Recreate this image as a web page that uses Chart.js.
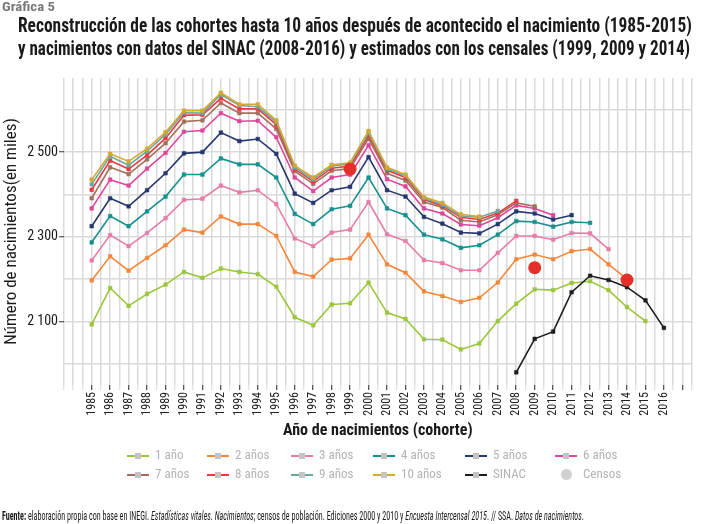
<!DOCTYPE html>
<html>
<head>
<meta charset="utf-8">
<script src="https://cdn.jsdelivr.net/npm/chart.js@4.4.1/dist/chart.umd.min.js"></script>
<style>
  html, body { margin:0; padding:0; background:#fff; }
  body { width:708px; height:524px; position:relative; overflow:hidden;
         font-family:"Liberation Sans Narrow","Roboto Condensed","Roboto",sans-serif; }
  #wrap { position:absolute; left:0; top:0; width:708px; height:524px; }
  .fit { position:absolute; white-space:nowrap; transform-origin:0 0; }
  #kicker { left:2px; top:0px; font-size:12px; font-weight:bold; color:#7a7a7a; }
  .title { font-size:20px; font-weight:bold; color:#1a1a1a; line-height:23px; }
  #t1 { left:18px; top:14px; }
  #t2 { left:18px; top:37px; }
  #foot { left:2px; top:509px; font-size:12px; color:#1a1a1a; }
  .leg { position:absolute; height:16px; font-size:13px; color:#b3b3b3; white-space:nowrap; }
  .leg .ln { position:absolute; left:0; top:7px; width:22px; height:2px; }
  .leg .sq { position:absolute; left:8px; top:5px; width:6px; height:6px; background:#c4c4c4; }
  .leg .dot { position:absolute; left:6px; top:2px; width:11px; height:11px; border-radius:50%; background:#d0d0d0; }
  .leg .tx { position:absolute; left:28px; top:-1px; }
</style>
</head>
<body>
<div id="wrap"><canvas id="c" width="708" height="524"></canvas></div>
<div id="kicker" class="fit">Gráfica 5</div>
<div id="t1" class="fit title">Reconstrucción de las cohortes hasta 10 años después de acontecido el nacimiento (1985-2015)</div>
<div id="t2" class="fit title">y nacimientos con datos del SINAC (2008-2016) y estimados con los censales (1999, 2009 y 2014)</div>
<div id="foot" class="fit"><b>Fuente:</b> elaboración propia con base en INEGI. <i>Estadísticas vitales. Nacimientos</i>; censos de población. Ediciones 2000 y 2010 y <i>Encuesta Intercensal 2015</i>. // SSA. <i>Datos de nacimientos</i>.</div>
<div id="legend"></div>
<script>
// ---------------- DATA ----------------
const years = [1985,1986,1987,1988,1989,1990,1991,1992,1993,1994,1995,1996,1997,1998,1999,2000,
               2001,2002,2003,2004,2005,2006,2007,2008,2009,2010,2011,2012,2013,2014,2015,2016];
// cohort series, values start at 1985
const cohort1  = [2093,2179,2137,2165,2187,2217,2203,2225,2217,2212,2182,2110,2091,2140,2143,2192,2121,2106,2058,2057,2034,2048,2101,2142,2176,2174,2191,2195,2174,2134,2101];
const cohort2  = [2197,2254,2220,2250,2280,2317,2310,2348,2330,2330,2302,2217,2206,2246,2249,2305,2235,2215,2171,2160,2146,2156,2192,2247,2258,2247,2266,2271,2235,2200];
const cohort3  = [2244,2304,2278,2309,2344,2387,2390,2421,2405,2410,2377,2296,2278,2310,2317,2382,2306,2290,2245,2238,2221,2221,2262,2302,2302,2293,2309,2308,2271];
const cohort4  = [2287,2349,2325,2360,2395,2447,2447,2485,2471,2471,2440,2354,2330,2365,2373,2440,2367,2351,2305,2294,2274,2280,2305,2337,2335,2324,2335,2333];
const cohort5  = [2325,2391,2372,2410,2450,2497,2500,2546,2526,2531,2496,2402,2380,2410,2418,2488,2410,2395,2347,2331,2310,2308,2330,2360,2355,2341,2351];
const cohort6  = [2367,2435,2421,2461,2498,2548,2551,2592,2573,2574,2535,2440,2408,2440,2447,2516,2436,2419,2367,2355,2329,2326,2345,2374,2367,2351];
const cohort7  = [2391,2464,2448,2483,2521,2572,2575,2616,2592,2592,2555,2455,2425,2456,2461,2532,2450,2433,2382,2369,2339,2335,2352,2380,2372];
const cohort8  = [2411,2480,2460,2493,2533,2587,2588,2627,2602,2602,2565,2460,2431,2462,2467,2539,2457,2440,2388,2373,2346,2341,2356,2385];
const cohort9  = [2424,2490,2469,2502,2542,2593,2592,2636,2610,2607,2571,2464,2436,2467,2472,2545,2461,2444,2391,2376,2349,2346,2361];
const cohort10 = [2435,2496,2478,2508,2547,2598,2598,2640,2613,2613,2575,2468,2440,2470,2475,2550,2464,2447,2394,2380,2353,2348];
// SINAC 2008-2016
const sinacYears = [2008,2009,2010,2011,2012,2013,2014,2015,2016];
const sinac      = [1980,2059,2076,2169,2208,2198,2181,2150,2085];
// census estimates
const censoYears = [1999,2009,2014];
const censos     = [2460,2227,2198];
// axis ticks
const yGridValues    = [2000,2100,2200,2300,2400,2500,2600];
const yLabeledValues = [2100,2300,2500];
const cohortLabels = ['1 año','2 años','3 años','4 años','5 años','6 años','7 años','8 años','9 años','10 años'];

// ---------------- STYLE ----------------
const FONT = '"Liberation Sans Narrow","Roboto Condensed","Roboto",sans-serif';
const cohortColors = ['#9cc63b','#f5863a','#e67ca7','#16918f','#27376f','#e0469b','#a3705b','#e83a40','#6aa9a1','#d6a733'];
const cohortSeries = [cohort1,cohort2,cohort3,cohort4,cohort5,cohort6,cohort7,cohort8,cohort9,cohort10];

function pts(xs, vs){ const o=[]; vs.forEach((v,i)=>{ if(v!=null) o.push({x:xs[i], y:v}); }); return o; }

const datasets = cohortSeries.map((s,i)=>({
  label: cohortLabels[i],
  data: pts(years, s),
  borderColor: cohortColors[i],
  backgroundColor: cohortColors[i],
  pointBackgroundColor: cohortColors[i],
  pointBorderColor: cohortColors[i],
  borderWidth: 1.6,
  pointStyle: 'rect',
  pointRadius: 2.6,
  pointBorderWidth: 0.5,
  tension: 0,
  order: 20 - i
}));
datasets.push({
  label: 'SINAC', data: pts(sinacYears, sinac),
  borderColor:'#1e1e1e', backgroundColor:'#1e1e1e', pointBackgroundColor:'#1e1e1e', pointBorderColor:'#1e1e1e',
  borderWidth:1.6, pointStyle:'rect', pointRadius:2.6, pointBorderWidth:0.5, order:5
});
datasets.push({
  label: 'Censos', data: pts(censoYears, censos), showLine:false,
  pointStyle:'circle', pointRadius:6.5, pointBackgroundColor:'#e5302a', pointBorderColor:'#e5302a',
  pointBorderWidth:0, borderColor:'#e5302a', backgroundColor:'#e5302a', order:0
});

new Chart(document.getElementById('c'), {
  type: 'line',
  data: { datasets },
  options: {
    responsive:false, animation:false, devicePixelRatio:1,
    layout:{ padding:{ top:78, left:0, right:1, bottom:79 } },
    plugins:{ legend:{display:false}, tooltip:{enabled:false} },
    scales:{
      x:{
        type:'linear', min:1983.5, max:2017.5,
        afterBuildTicks: s => { const t=[]; for(let v=1983.5; v<=2017.5+1e-9; v+=0.5) t.push({value:v}); s.ticks=t; },
        afterFit: s => { s.height = 60; },
        border:{display:false},
        grid:{ color:'#dadada', lineWidth:1.5, drawTicks:true, tickLength:5,
               tickColor: c => (c.tick && Number.isInteger(c.tick.value) && c.tick.value>=1985) ? '#222' : '#dadada',
               tickWidth: 1 },
        ticks:{ autoSkip:false, minRotation:90, maxRotation:90, padding:2, color:'#222',
                font:{ family:FONT, size:12 },
                callback: v => (Number.isInteger(v) && v>=years[0] && v<=years[years.length-1]) ? String(v) : '' },
        title:{ display:true, text:'Año de nacimientos (cohorte)', color:'#1a1a1a',
                font:{ family:FONT, size:16, weight:'bold' }, padding:{top:0,bottom:4} }
      },
      y:{
        min:1950, max:2675,
        afterBuildTicks: s => { s.ticks = yGridValues.map(v=>({value:v})); },
        afterFit: s => { s.width = 64; },
        border:{display:false},
        grid:{ color:'#dadada', lineWidth:1.5, drawTicks:true, tickLength:5,
               tickColor: c => (c.tick && yLabeledValues.includes(c.tick.value)) ? '#333' : 'rgba(0,0,0,0)',
               tickWidth:1 },
        ticks:{ padding:1, color:'#1a1a1a', font:{ family:FONT, size:14 },
                callback: v => yLabeledValues.includes(v) ? String(v).replace(/^(\d)(\d{3})$/, '$1 $2') : '' },
        title:{ display:true, text:'Número de nacimientos(en miles)', color:'#1a1a1a',
                font:{ family:FONT, size:17 }, padding:{top:2,bottom:0} }
      }
    }
  }
});

// ---------------- LEGEND (HTML) ----------------
const legendItems = cohortLabels.map((l,i)=>({label:l, color:cohortColors[i]}))
  .concat([{label:'SINAC', color:'#1e1e1e'}, {label:'Censos', dot:true}]);
const colX = [127,207,291,373,465,555];
const rowY = [448,467];
const lg = document.getElementById('legend');
legendItems.forEach((it,i)=>{
  const d = document.createElement('div');
  d.className='leg';
  d.style.left = colX[i%6] + 'px';
  d.style.top = rowY[Math.floor(i/6)] + 'px';
  d.innerHTML = it.dot ? '<span class="dot"></span><span class="tx">'+it.label+'</span>'
    : '<span class="ln" style="background:'+it.color+'"></span><span class="sq"></span><span class="tx">'+it.label+'</span>';
  lg.appendChild(d);
});

// fit HTML text to measured widths of the reference
function fitW(id, w){ const e=document.getElementById(id); const r=e.getBoundingClientRect().width; e.style.transform='scaleX('+(w/r)+')'; }
fitW('t1', 674); fitW('t2', 672); fitW('foot', 582); fitW('kicker', 53);
</script>
</body>
</html>
